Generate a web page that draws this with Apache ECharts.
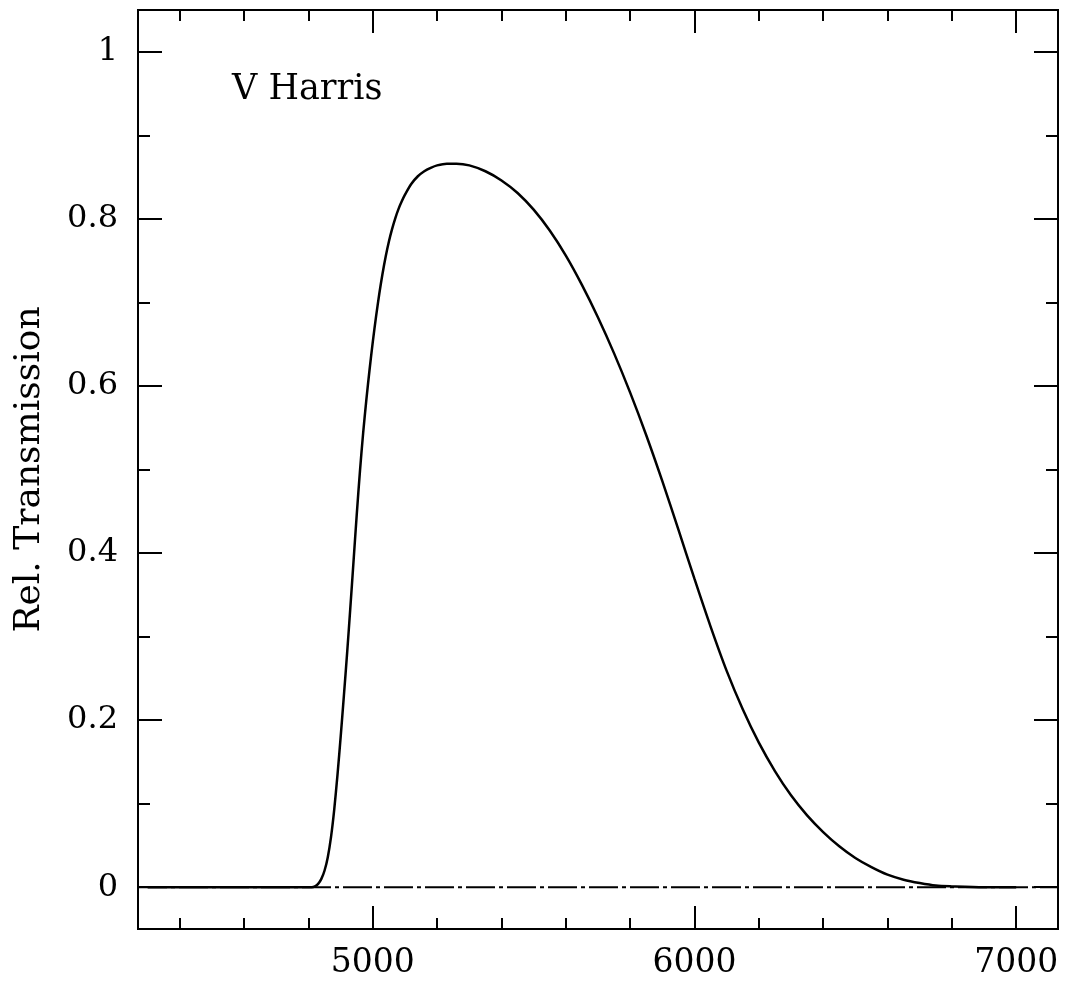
<!DOCTYPE html>
<html>
<head>
<meta charset="utf-8">
<script src="https://cdn.jsdelivr.net/npm/echarts@6/dist/echarts.min.js"></script>
<style>
html,body{margin:0;padding:0;background:#fff;}
#chart{width:1067px;height:984px;}
</style>
</head>
<body>
<div id="chart"></div>
<script>
// Wavelength (Angstrom) and relative transmission of the V Harris filter
const wavelength = [4300, 4500, 4700, 4810, 4820, 4830, 4840, 4850, 4860, 4870,
  4880, 4890, 4900, 4910, 4920, 4930, 4940, 4950, 4960, 4970,
  4980, 4990, 5000, 5010, 5020, 5030, 5040, 5050, 5060, 5070,
  5080, 5090, 5100, 5120, 5140, 5160, 5180, 5200, 5230, 5260,
  5300, 5350, 5400, 5450, 5500, 5550, 5600, 5650, 5700, 5750,
  5800, 5850, 5900, 5950, 6000, 6050, 6100, 6150, 6200, 6250,
  6300, 6350, 6400, 6450, 6500, 6550, 6600, 6650, 6700, 6750,
  6800, 6900, 7000];
const transmission = [0, 0, 0, 0, 0.001, 0.004, 0.010, 0.020, 0.036, 0.060,
  0.093, 0.134, 0.180, 0.229, 0.280, 0.334, 0.390, 0.446, 0.498, 0.544,
  0.584, 0.620, 0.653, 0.683, 0.710, 0.734, 0.755, 0.773, 0.788, 0.801,
  0.812, 0.821, 0.829, 0.842, 0.851, 0.857, 0.861, 0.864, 0.866, 0.866,
  0.864, 0.857, 0.846, 0.831, 0.811, 0.786, 0.756, 0.721, 0.682, 0.639,
  0.592, 0.541, 0.486, 0.428, 0.369, 0.312, 0.259, 0.213, 0.173, 0.139,
  0.110, 0.086, 0.066, 0.049, 0.035, 0.024, 0.015, 0.009, 0.005, 0.002,
  0.001, 0, 0];
const xRange = [4270, 7130];
const yRange = [-0.05, 1.05];
const baselineValue = 0;
const filterLabel = 'V Harris';
const yTitle = 'Rel. Transmission';
const xMajorStep = 1000, xMinorStep = 200;
const yMajorStep = 0.2, yMinorStep = 0.1;

const curve = wavelength.map((w, i) => [w, transmission[i]]);
const baseline = xRange.map(x => [x, baselineValue]);

const serif = '"DejaVu Serif", "Liberation Serif", serif';

function xAx(pos, step, len, labels) {
  return {
    type: 'value', position: pos, min: xRange[0], max: xRange[1],
    minInterval: step, maxInterval: step, splitNumber: 3,
    axisLine: { show: false, onZero: false },
    splitLine: { show: false },
    axisTick: { show: true, inside: true, length: len, lineStyle: { color: '#000', width: 2 } },
    axisLabel: labels ? { show: true, showMinLabel: false, showMaxLabel: false, margin: 18,
      formatter: v => String(v),
      fontFamily: serif, fontSize: 33, color: '#000' } : { show: false }
  };
}
function yAx(pos, step, len, labels, name) {
  const a = {
    type: 'value', position: pos, min: yRange[0], max: yRange[1],
    minInterval: step, maxInterval: step, splitNumber: 6,
    axisLine: { show: false, onZero: false },
    splitLine: { show: false },
    axisTick: { show: true, inside: true, length: len, lineStyle: { color: '#000', width: 2 } },
    axisLabel: labels ? { show: true, showMinLabel: false, showMaxLabel: false, margin: 20,
      formatter: v => String(Math.round(v * 10) / 10),
      fontFamily: serif, fontSize: 32, color: '#000' } : { show: false }
  };
  if (name) {
    a.name = name;
    a.nameLocation = 'middle';
    a.nameGap = 90;
    a.nameTextStyle = { fontFamily: serif, fontSize: 36, color: '#000' };
  }
  return a;
}

const chart = echarts.init(document.getElementById('chart'), null, { renderer: 'canvas' });
chart.setOption({
  animation: false,
  backgroundColor: '#fff',
  grid: { left: 138, right: 9, top: 10, bottom: 55, show: true, borderColor: '#000', borderWidth: 2, backgroundColor: 'transparent' },
  xAxis: [
    xAx('bottom', xMajorStep, 23, true),
    xAx('bottom', xMinorStep, 11, false),
    xAx('top', xMajorStep, 23, false),
    xAx('top', xMinorStep, 11, false)
  ],
  yAxis: [
    yAx('left', yMajorStep, 24, true, yTitle),
    yAx('left', yMinorStep, 12, false),
    yAx('right', yMajorStep, 24, false),
    yAx('right', yMinorStep, 12, false)
  ],
  graphic: [{
    type: 'text', left: 232, top: 72,
    style: { text: filterLabel, font: '35px ' + serif, fill: '#000' }
  }],
  series: [
    {
      type: 'line', data: baseline, xAxisIndex: 0, yAxisIndex: 0,
      symbol: 'none', silent: true, z: 1,
      lineStyle: { color: '#000', width: 2, type: [29, 4, 4, 4] }
    },
    {
      type: 'line', data: curve, xAxisIndex: 0, yAxisIndex: 0,
      symbol: 'none', silent: true, z: 2,
      smooth: 0.3,
      lineStyle: { color: '#000', width: 2.5 }
    }
  ]
});
</script>
</body>
</html>
